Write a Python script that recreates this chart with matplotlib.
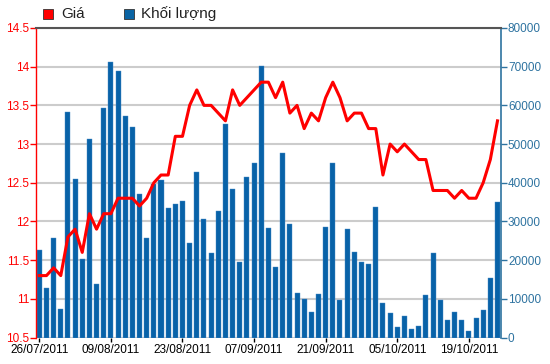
import matplotlib
matplotlib.use("Agg")
import matplotlib.pyplot as plt
from matplotlib.patches import Rectangle

plt.rcParams['font.family'] = ['Liberation Sans', 'DejaVu Sans']

# ---- data ----
price = [11.3, 11.3, 11.4, 11.3, 11.8, 11.9, 11.6, 12.1, 11.9, 12.1,
         12.1, 12.3, 12.3, 12.3, 12.2, 12.3, 12.5, 12.6, 12.6, 13.1,
         13.1, 13.5, 13.7, 13.5, 13.5, 13.4, 13.3, 13.7, 13.5, 13.6,
         13.7, 13.8, 13.8, 13.6, 13.8, 13.4, 13.5, 13.2, 13.4, 13.3,
         13.6, 13.8, 13.6, 13.3, 13.4, 13.4, 13.2, 13.2, 12.6, 13.0,
         12.9, 13.0, 12.9, 12.8, 12.8, 12.4, 12.4, 12.4, 12.3, 12.4,
         12.3, 12.3, 12.5, 12.8, 13.3]
volume = [22500, 12800, 25600, 7400, 58300, 40900, 20200, 51200, 13900, 59200,
          71100, 68900, 57200, 54400, 37000, 25600, 39600, 40800, 33400, 34500,
          35300, 24400, 42900, 30600, 21900, 32600, 55300, 38300, 19600, 41600,
          45000, 70100, 28200, 18300, 47600, 29300, 11500, 10000, 6600, 11300,
          28600, 45000, 9600, 28000, 22200, 19600, 18900, 33800, 8900, 6300,
          2600, 5500, 2200, 3100, 10900, 21900, 9600, 4400, 6600, 4400,
          1800, 5000, 7000, 15400, 35100]
tick_pos = [0, 10, 20, 30, 40, 50, 60]
tick_labels = ['26/07/2011', '09/08/2011', '23/08/2011', '07/09/2011',
               '21/09/2011', '05/10/2011', '19/10/2011']
price_ticks = [10.5, 11, 11.5, 12, 12.5, 13, 13.5, 14, 14.5]
vol_ticks = [0, 10000, 20000, 30000, 40000, 50000, 60000, 70000, 80000]
legend_labels = ['Giá', 'Khối lượng']

RED = '#FF0000'
BAR = '#0862A8'
RBLUE = '#2E73A0'

fig = plt.figure(figsize=(5.5, 3.64), dpi=100)
ax = fig.add_axes([36/550, 1-337.5/364, 465/550, 309.5/364])
ax2 = ax.twinx()

x = list(range(len(volume)))
ax.bar(x, volume, width=0.7, color=BAR, edgecolor='#4A8CC8', linewidth=0.3, zorder=2)
ax.set_ylim(0, 80000)
ax.set_xlim(-0.46, 64.49)
ax.set_yticks(vol_ticks)
ax.set_yticklabels([str(v) for v in vol_ticks])
ax.yaxis.tick_right()
ax.tick_params(axis='y', colors=RBLUE, labelsize=8.5, length=4, width=1, pad=1)
ax.set_xticks(tick_pos)
ax.set_xticklabels(tick_labels)
ax.tick_params(axis='x', colors='black', labelsize=8.5, length=3, width=1, pad=2)
ax.grid(axis='y', color='#CCCCCC', linewidth=1.5, zorder=0)
ax.set_axisbelow(True)
for s in ax.spines.values():
    s.set_visible(False)

ax2.plot(x, price, color=RED, linewidth=2.2, zorder=3, solid_joinstyle='round')
ax2.set_ylim(10.5, 14.5)
ax2.set_yticks(price_ticks)
ax2.set_yticklabels(['%g' % v for v in price_ticks])
ax2.yaxis.tick_left()
ax2.tick_params(axis='y', colors=RED, labelsize=8.5, length=4, width=1, pad=1)
for s in ax2.spines.values():
    s.set_visible(False)
ax2.spines['left'].set_visible(True)
ax2.spines['left'].set_color(RED)
ax2.spines['left'].set_linewidth(1)
ax2.spines['right'].set_visible(True)
ax2.spines['right'].set_color(RBLUE)
ax2.spines['right'].set_linewidth(1.2)
ax2.spines['top'].set_visible(True)
ax2.spines['top'].set_color('#555555')
ax2.spines['top'].set_linewidth(1.5)

# legend
fig.patches.append(Rectangle((43/550, 1-19/364), 10/550, 10/364, transform=fig.transFigure,
                             facecolor=RED, edgecolor='#333333', linewidth=0.6))
fig.text(61/550, 1-13.5/364, legend_labels[0], fontsize=11, va='center', ha='left', color='#222222')
fig.patches.append(Rectangle((124/550, 1-19/364), 10/550, 10/364, transform=fig.transFigure,
                             facecolor='#0A64A4', edgecolor='#333333', linewidth=0.6))
fig.text(141/550, 1-13.5/364, legend_labels[1], fontsize=11, va='center', ha='left', color='#222222')

fig.savefig('out.png', dpi=100)
